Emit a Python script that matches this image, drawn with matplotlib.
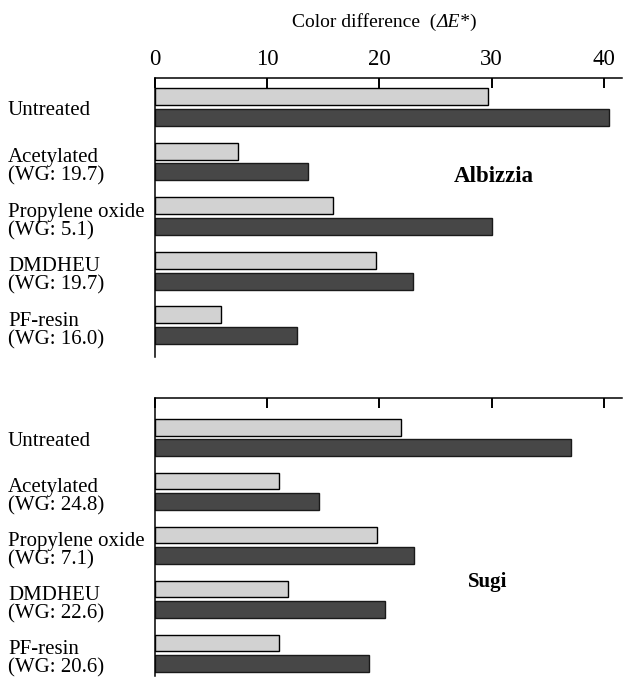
import matplotlib
matplotlib.use("Agg")
import matplotlib.pyplot as plt
import numpy as np
from matplotlib.transforms import blended_transform_factory

plt.rcParams['font.family'] = ['Liberation Serif', 'DejaVu Serif']

categories_albizzia = ["Untreated", "Acetylated\n(WG: 19.7)", "Propylene oxide\n(WG: 5.1)",
                       "DMDHEU\n(WG: 19.7)", "PF-resin\n(WG: 16.0)"]
categories_sugi = ["Untreated", "Acetylated\n(WG: 24.8)", "Propylene oxide\n(WG: 7.1)",
                   "DMDHEU\n(WG: 22.6)", "PF-resin\n(WG: 20.6)"]
albizzia_light = [29.7, 7.4, 15.9, 19.7, 5.9]
albizzia_dark = [40.4, 13.7, 30.0, 23.0, 12.7]
sugi_light = [21.9, 11.1, 19.8, 11.9, 11.1]
sugi_dark = [37.1, 14.6, 23.1, 20.5, 19.1]
xticks = [0, 10, 20, 30, 40]

W, H = 624, 677
fig = plt.figure(figsize=(W / 100, H / 100), dpi=100)

def fx(px):
    return px / W

def fy(px):
    return 1 - px / H

ax1 = fig.add_axes([fx(154.5), fy(357), fx(622) - fx(154.5), fy(78) - fy(357)])
ax2 = fig.add_axes([fx(154.5), fy(676), fx(622) - fx(154.5), fy(398) - fy(676)])

bar_h = 0.31
off = 0.19
light_c = '#d2d2d2'
dark_c = '#474747'

def panel(ax, cats, light, dark, ylim, name, name_xy, name_size, show_labels):
    y = np.arange(len(cats))
    ax.barh(y - off, light, height=bar_h, color=light_c, edgecolor='black', linewidth=1.0)
    ax.barh(y + off, dark, height=bar_h, color=dark_c, edgecolor='#1a1a1a', linewidth=1.0)
    ax.set_xlim(0, 41.6)
    ax.set_ylim(*ylim)
    for s in ['right', 'bottom']:
        ax.spines[s].set_visible(False)
    for s in ['top', 'left']:
        ax.spines[s].set_linewidth(1.1)
    ax.xaxis.tick_top()
    ax.set_xticks(xticks)
    ax.tick_params(axis='x', direction='in', length=7, width=1.4, pad=6,
                   labelsize=16.5, labeltop=show_labels, bottom=False, labelbottom=False)
    ax.set_yticks([])
    tr = blended_transform_factory(fig.transFigure, ax.transData)
    for i, c in enumerate(cats):
        dy = 0.1 if "\n" in c else 0.07
        ax.text(fx(8), i + dy, c, transform=tr, ha='left', va='center',
                fontsize=15, linespacing=0.95)
    ax.text(name_xy[0], name_xy[1], name, ha='center', va='center',
            fontsize=name_size, fontweight='bold')

panel(ax1, categories_albizzia, albizzia_light, albizzia_dark, (4.58, -0.53),
      "Albizzia", (30.2, 1.28), 16.5, True)
panel(ax2, categories_sugi, sugi_light, sugi_dark, (4.42, -0.73),
      "Sugi", (29.6, 2.68), 15, False)

t1 = fig.text(fx(292), fy(22), "Color difference  (", ha='left', va='center', fontsize=14)
a2 = ax1.annotate("\u0394E*", xy=(1, 0), xycoords=t1, ha='left', va='bottom',
                  fontsize=14, style='italic', annotation_clip=False)
a3 = ax1.annotate(")", xy=(1, 0), xycoords=a2, ha='left', va='bottom', fontsize=14,
                  annotation_clip=False)

fig.savefig("out.png", dpi=100)
